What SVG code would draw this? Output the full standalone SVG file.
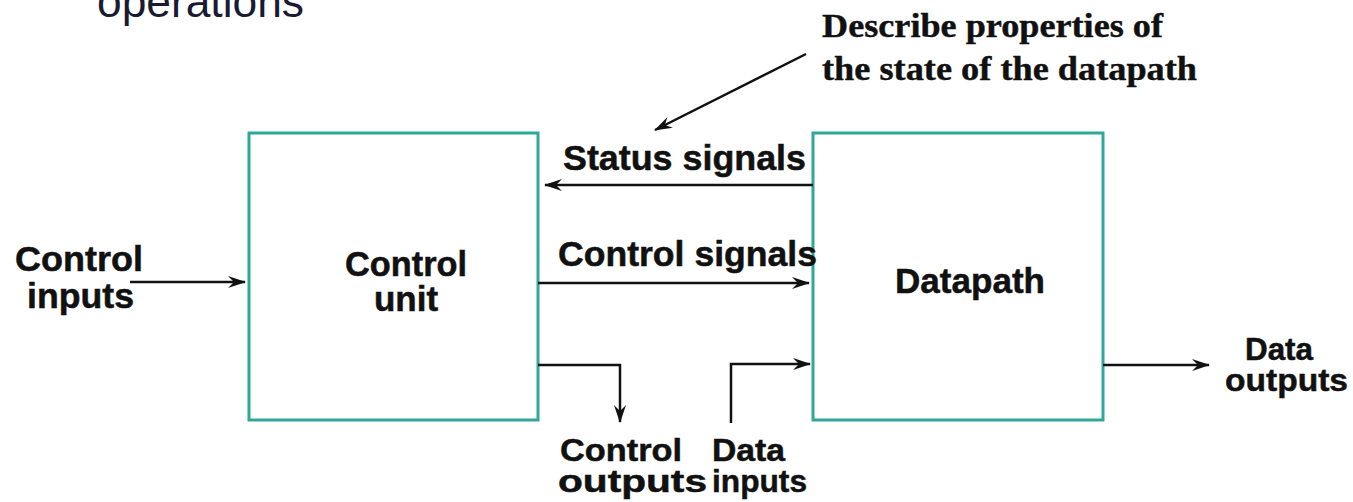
<svg xmlns="http://www.w3.org/2000/svg" width="1353" height="502" viewBox="0 0 1353 502">
<defs>
<marker id="ah" markerWidth="18" markerHeight="12" refX="17" refY="6" orient="auto" markerUnits="userSpaceOnUse">
<path d="M0,0 L18,6 L0,12 L6,6 Z" fill="#111"/>
</marker>
<style>
.box{fill:#fff;stroke:#2ea898;stroke-width:3}
.lbl{font-family:"Liberation Sans",Arial,sans-serif;font-weight:bold;font-size:35px;fill:#111;stroke:#111;stroke-width:0.5}
.sm{font-size:32px}
.note{font-family:"Liberation Serif","Times New Roman",serif;font-weight:bold;font-size:33px;fill:#111;stroke:#111;stroke-width:0.4}
.conn{fill:none;stroke:#111;stroke-width:2.5}
</style>
</defs>
<rect width="1353" height="502" fill="#fff"/>
<text x="97" y="17" font-family="Liberation Sans,Arial,sans-serif" font-size="44" fill="#1a1a33" textLength="207" lengthAdjust="spacingAndGlyphs">operations</text>
<g id="annotation">
<text class="note" x="822" y="37" textLength="341" lengthAdjust="spacingAndGlyphs">Describe properties of</text>
<text class="note" x="822" y="80" textLength="375" lengthAdjust="spacingAndGlyphs">the state of the datapath</text>
</g>
<g id="control-unit">
<rect class="box" x="249" y="133" width="289" height="287"/>
<text class="lbl" x="345" y="276" textLength="122" lengthAdjust="spacingAndGlyphs">Control</text>
<text class="lbl" x="406" y="311" text-anchor="middle">unit</text>
</g>
<g id="datapath">
<rect class="box" x="813" y="133" width="290" height="287"/>
<text class="lbl" x="895" y="293" textLength="150" lengthAdjust="spacingAndGlyphs">Datapath</text>
</g>
<g id="labels">
<text class="lbl" x="15" y="271" textLength="128" lengthAdjust="spacingAndGlyphs">Control</text>
<text class="lbl" x="27" y="308" textLength="107" lengthAdjust="spacingAndGlyphs">inputs</text>
<text class="lbl" x="563" y="170" textLength="243" lengthAdjust="spacingAndGlyphs">Status signals</text>
<text class="lbl" x="558" y="266" textLength="259" lengthAdjust="spacingAndGlyphs">Control signals</text>
<text class="lbl sm" x="560" y="461" textLength="122" lengthAdjust="spacingAndGlyphs">Control</text>
<text class="lbl sm" x="558" y="492" textLength="149" lengthAdjust="spacingAndGlyphs">outputs</text>
<text class="lbl sm" x="712" y="461" textLength="73" lengthAdjust="spacingAndGlyphs">Data</text>
<text class="lbl sm" x="712" y="492" textLength="95" lengthAdjust="spacingAndGlyphs">inputs</text>
<text class="lbl sm" x="1245" y="360" textLength="68" lengthAdjust="spacingAndGlyphs">Data</text>
<text class="lbl sm" x="1225" y="391" textLength="123" lengthAdjust="spacingAndGlyphs">outputs</text>
</g>
<g id="connectors">
<line class="conn" x1="806" y1="54" x2="655" y2="130" marker-end="url(#ah)"/>
<line class="conn" x1="130" y1="282" x2="245" y2="282" marker-end="url(#ah)"/>
<line class="conn" x1="813" y1="185" x2="545" y2="185" marker-end="url(#ah)"/>
<line class="conn" x1="538" y1="283" x2="809" y2="283" marker-end="url(#ah)"/>
<polyline class="conn" points="538,365 620,365 620,422" marker-end="url(#ah)"/>
<polyline class="conn" points="731,423 731,364 810,364" marker-end="url(#ah)"/>
<line class="conn" x1="1103" y1="365" x2="1209" y2="365" marker-end="url(#ah)"/>
</g>
</svg>
